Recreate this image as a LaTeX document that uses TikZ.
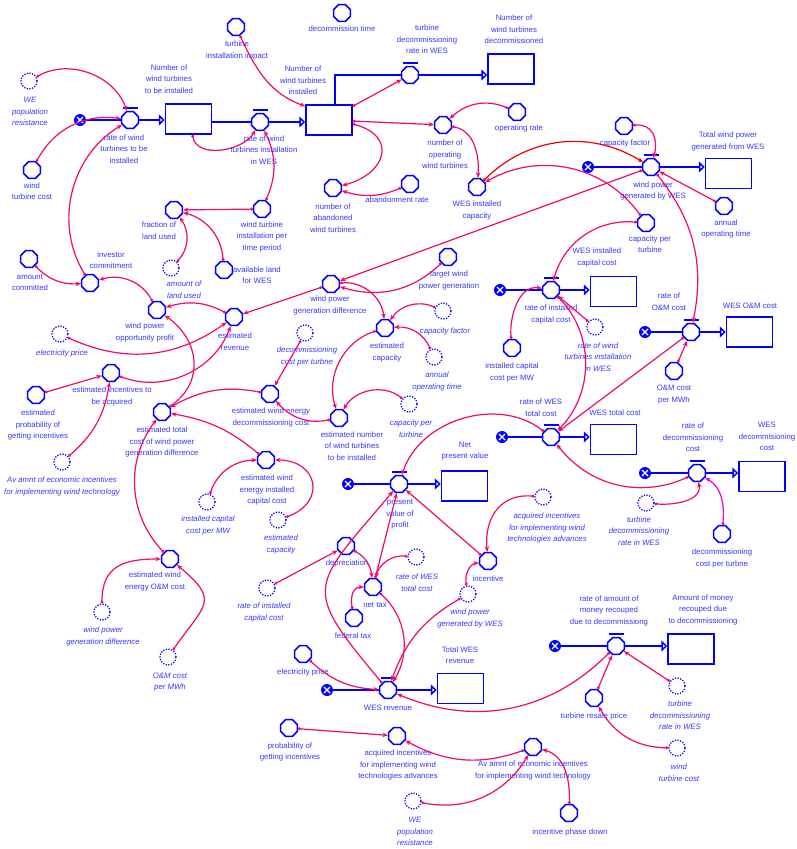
\documentclass[tikz,border=0pt]{standalone}
\usepackage{fontspec}
\setmainfont{Liberation Sans}
\usetikzlibrary{shapes.geometric,arrows.meta}
\definecolor{sdblue}{RGB}{0,0,255}
\definecolor{txtblue}{RGB}{55,55,255}
\definecolor{lnkpink}{RGB}{240,10,110}
\definecolor{lnkred}{RGB}{235,0,0}
\definecolor{lnkmag}{RGB}{230,0,220}
\tikzset{
  aux/.style={regular polygon, regular polygon sides=8, draw=sdblue, line width=1.5pt,
    minimum size=18pt, inner sep=0pt},
  ghost/.style={circle, draw=sdblue, line width=1.3pt, dash pattern=on 1.2pt off 1.5pt,
    minimum size=16pt, inner sep=0pt},
  valve/.style={aux},
  stock/.style={rectangle, draw=sdblue, line width=1.5pt, minimum width=46pt,
    minimum height=30pt, inner sep=0pt},
  srcsink/.style={circle, fill=sdblue, minimum size=12pt, inner sep=0pt,
    path picture={\draw[white, line width=1.1pt] (path picture bounding box.center)
      +(-3pt,-3pt) -- +(3pt,3pt) +(-3pt,3pt) -- +(3pt,-3pt);}},
  lab/.style={align=center, text=txtblue, font=\fontsize{7.8}{11.5}\selectfont, inner sep=0pt},
  glab/.style={lab, font=\fontsize{7.8}{11.5}\selectfont\itshape},
  flowline/.style={draw=sdblue, line width=1.6pt},
  flowarr/.style={flowline, -{Triangle[open, length=6pt, width=11pt, fill=white]}},
  lnk/.style={draw=lnkpink, line width=1.2pt,
    {Circle[length=2.8pt]}-{Stealth[length=5.5pt, width=4.5pt]}},
}
\begin{document}
\begin{tikzpicture}[x=1pt, y=1pt]
\fill[white] (0,0) rectangle (796,-849);
\path[use as bounding box] (0,0) rectangle (796,-849);

% ---------- stocks ----------
\node[stock] (s1) at (188.5,-119) {};
\node[stock] (s2) at (329,-120) {};
\node[stock] (s3) at (511,-69) {};
\node[stock] (s4) at (728.5,-173.5) {};
\node[stock] (s5) at (613.5,-291.5) {};
\node[stock] (s6) at (749.5,-332) {};
\node[stock] (s7) at (613.5,-439.5) {};
\node[stock] (s8) at (762,-476.5) {};
\node[stock] (s9) at (464.5,-486) {};
\node[stock] (s10) at (691,-649) {};
\node[stock] (s11) at (460.5,-688.5) {};
\node[lab] (s1-l) at (169,-79) {Number of\\wind turbines\\to be installed};
\node[lab] (s2-l) at (303,-80.5) {Number of\\wind turbines\\installed};
\node[lab] (s3-l) at (514,-29.5) {Number of\\wind turbines\\decommissioned};
\node[lab] (s4-l) at (728,-141.5) {Total wind power\\generated from WES};
\node[lab] (s5-l) at (597,-257.5) {WES installed\\capital cost};
\node[lab] (s6-l) at (750,-306) {WES O\&M cost};
\node[lab] (s7-l) at (615,-413) {WES total cost};
\node[lab] (s8-l) at (767,-436.5) {WES\\decommisioning\\cost};
\node[lab] (s9-l) at (465,-451) {Net\\present value};
\node[lab] (s10-l) at (703,-609.5) {Amount of money\\recouped due\\to decommissioning};
\node[lab] (s11-l) at (460,-655) {Total WES\\revenue};

% ---------- valves ----------
\node[valve] (v1) at (130,-120) {};
\node[valve] (v2) at (260,-122) {};
\node[valve] (v3) at (410,-75) {};
\node[valve] (v4) at (651,-167) {};
\node[valve] (v5) at (551,-290) {};
\node[valve] (v6) at (691,-332) {};
\node[valve] (v7) at (551,-437) {};
\node[valve] (v8) at (697,-473) {};
\node[valve] (v9) at (399,-484) {};
\node[valve] (v10) at (616,-646) {};
\node[valve] (v11) at (388,-690) {};
\foreach \v in {v1,v2,v3,v4,v5,v6,v7,v8,v9,v10,v11}
  \draw[sdblue, line width=1.8pt] ([xshift=-7.5pt,yshift=3pt]\v.north) -- ([xshift=7.5pt,yshift=3pt]\v.north);
\node[lab] (v1-l) at (124,-149) {rate of wind\\turbines to be\\installed};
\node[lab] (v2-l) at (264,-150) {rate of wind\\turbines installation\\in WES};
\node[lab] (v3-l) at (427,-39.5) {turbine\\decommissioning\\rate in WES};
\node[lab] (v4-l) at (653,-191) {wind power\\generated by WES};
\node[lab] (v5-l) at (551,-314.5) {rate of installed\\capital cost};
\node[lab] (v6-l) at (669,-301.5) {rate of\\O\&M cost};
\node[lab] (v7-l) at (541,-407.5) {rate of WES\\total cost};
\node[lab] (v8-l) at (693,-437.5) {rate of\\decommissioning\\cost};
\node[lab] (v9-l) at (400,-514.5) {present\\value of\\profit};
\node[lab] (v10-l) at (609,-610.5) {rate of amount of\\money recouped\\due to decommissiong};
\node[lab] (v11-l) at (388,-708) {WES revenue};

% ---------- sources and sinks ----------
\node[srcsink] (c1) at (80,-120) {};
\node[srcsink] (c4) at (588,-167) {};
\node[srcsink] (c5) at (500,-290) {};
\node[srcsink] (c6) at (645,-332) {};
\node[srcsink] (c7) at (502,-437) {};
\node[srcsink] (c8) at (645,-473) {};
\node[srcsink] (c9) at (348,-484) {};
\node[srcsink] (c10) at (555,-646) {};
\node[srcsink] (c11) at (327,-690) {};

% ---------- flows ----------
\draw[flowline] (c1) -- (v1);
\draw[flowarr] (v1) -- (v1 -| s1.west);
\draw[flowline] (s1.east |- v2) -- (v2);
\draw[flowarr] (v2) -- (v2 -| s2.west);
\draw[flowline] ([xshift=6pt]s2.north) |- (v3);
\draw[flowarr] (v3) -- (v3 -| s3.west);
\draw[flowline] (c4) -- (v4);
\draw[flowarr] (v4) -- (v4 -| s4.west);
\draw[flowline] (c5) -- (v5);
\draw[flowarr] (v5) -- (v5 -| s5.west);
\draw[flowline] (c6) -- (v6);
\draw[flowarr] (v6) -- (v6 -| s6.west);
\draw[flowline] (c7) -- (v7);
\draw[flowarr] (v7) -- (v7 -| s7.west);
\draw[flowline] (c8) -- (v8);
\draw[flowarr] (v8) -- (v8 -| s8.west);
\draw[flowline] (c9) -- (v9);
\draw[flowarr] (v9) -- (v9 -| s9.west);
\draw[flowline] (c10) -- (v10);
\draw[flowarr] (v10) -- (v10 -| s10.west);
\draw[flowline] (c11) -- (v11);
\draw[flowarr] (v11) -- (v11 -| s11.west);

% ---------- auxiliaries ----------
\node[aux] (tii) at (236,-27) {};
\node[lab] (tii-l) at (237,-50.5) {turbine\\installation impact};
\node[aux] (dct) at (342,-13) {};
\node[lab] (dct-l) at (342,-29) {decommission time};
\node[aux] (wtc) at (32,-170) {};
\node[lab] (wtc-l) at (32,-191) {wind\\turbine cost};
\node[aux] (nop) at (443,-125) {};
\node[lab] (nop-l) at (445,-154.5) {number of\\operating\\wind turbines};
\node[aux] (opr) at (517,-112) {};
\node[lab] (opr-l) at (519,-128) {operating rate};
\node[aux] (nab) at (333,-188) {};
\node[lab] (nab-l) at (333,-218) {number of\\abandoned\\wind turbines};
\node[aux] (abr) at (410,-184) {};
\node[lab] (abr-l) at (397,-200) {abandonment rate};
\node[aux] (wic) at (477,-187) {};
\node[lab] (wic-l) at (477,-210.5) {WES installed\\capacity};
\node[aux] (cf) at (624,-126) {};
\node[lab] (cf-l) at (625,-143) {capacity factor};
\node[aux] (aot) at (724,-206) {};
\node[lab] (aot-l) at (726,-229) {annual\\operating time};
\node[aux] (flu) at (174,-210) {};
\node[lab] (flu-l) at (159,-230.5) {fraction of\\land used};
\node[aux] (wti) at (262,-209) {};
\node[lab] (wti-l) at (262,-236.5) {wind turbine\\installation per\\time period};
\node[aux] (alw) at (224,-270) {};
\node[lab] (alw-l) at (257,-275) {available land\\for WES};
\node[aux] (amc) at (29,-259) {};
\node[lab] (amc-l) at (30,-282.5) {amount\\committed};
\node[aux] (inv) at (90,-283) {};
\node[lab] (inv-l) at (111,-260) {investor\\commitment};
\node[aux] (wpo) at (157,-310) {};
\node[lab] (wpo-l) at (145,-332.5) {wind power\\opportunity profit};
\node[aux] (erv) at (234,-317) {};
\node[lab] (erv-l) at (235,-341.5) {estimated\\revenue};
\node[aux] (eia) at (111,-373) {};
\node[lab] (eia-l) at (112,-396.5) {estimated incentives to\\be acquired};
\node[aux] (epi) at (36,-395) {};
\node[lab] (epi-l) at (38,-425) {estimated\\probability of\\getting incentives};
\node[aux] (etc) at (162,-412) {};
\node[lab] (etc-l) at (162,-442) {estimated total\\cost of wind power\\generation difference};
\node[aux] (wpd) at (331,-284) {};
\node[lab] (wpd-l) at (330,-305.5) {wind power\\generation difference};
\node[aux] (twp) at (448,-257) {};
\node[lab] (twp-l) at (449,-280.5) {target wind\\power generation};
\node[aux] (eca) at (385,-328) {};
\node[lab] (eca-l) at (387,-352.5) {estimated\\capacity};
\node[aux] (ewd) at (270,-394) {};
\node[lab] (ewd-l) at (271,-417.5) {estimated wind energy\\decommissioning cost};
\node[aux] (enw) at (339,-418) {};
\node[lab] (enw-l) at (352,-446) {estimated number\\of wind turbines\\to be installed};
\node[aux] (eic) at (266,-460) {};
\node[lab] (eic-l) at (267,-490) {estimated wind\\energy installed\\capital cost};
\node[aux] (eom) at (170,-559) {};
\node[lab] (eom-l) at (155,-581.5) {estimated wind\\energy O\&M cost};
\node[aux] (cpt) at (646,-223) {};
\node[lab] (cpt-l) at (650,-244) {capacity per\\turbine};
\node[aux] (icm) at (512,-348) {};
\node[lab] (icm-l) at (512,-372.5) {installed capital\\cost per MW};
\node[aux] (omc) at (674,-371) {};
\node[lab] (omc-l) at (674,-394.5) {O\&M cost\\per MWh};
\node[aux] (dcp) at (722,-534) {};
\node[lab] (dcp-l) at (722,-558.5) {decommissioning\\cost per turbne};
\node[aux] (dep) at (346,-546) {};
\node[lab] (dep-l) at (347,-563) {depreciation};
\node[aux] (ntx) at (373,-587) {};
\node[lab] (ntx-l) at (375,-605) {net tax};
\node[aux] (ftx) at (354,-618) {};
\node[lab] (ftx-l) at (353,-636) {federal tax};
\node[aux] (inc) at (488,-561) {};
\node[lab] (inc-l) at (488,-579) {incentive};
\node[aux] (elp) at (303,-654) {};
\node[lab] (elp-l) at (303,-672) {electricity price};
\node[aux] (pgi) at (289,-728) {};
\node[lab] (pgi-l) at (290,-752) {probability of\\getting incentives};
\node[aux] (aqi) at (397,-736) {};
\node[lab] (aqi-l) at (398,-765) {acquired incentives\\for implementing wind\\technologies advances};
\node[aux] (aae) at (533,-747) {};
\node[lab] (aae-l) at (533,-770.5) {Av amnt of economic incentives\\for implementing wind technology};
\node[aux] (ipd) at (569,-813) {};
\node[lab] (ipd-l) at (570,-832) {incentive phase down};
\node[aux] (trp) at (594,-698) {};
\node[lab] (trp-l) at (594,-716) {turbine resale price};

% ---------- shadow variables ----------
\node[ghost] (gpr1) at (29,-81) {};
\node[glab] (gpr1-l) at (30,-111.5) {WE\\population\\resistance};
\node[ghost] (galu) at (171,-268) {};
\node[glab] (galu-l) at (184,-289.5) {amount of\\land used};
\node[ghost] (gep) at (60,-334) {};
\node[glab] (gep-l) at (62,-353) {electricity price};
\node[ghost] (gcd) at (305,-333) {};
\node[glab] (gcd-l) at (307,-356.5) {decommissioning\\cost per turbne};
\node[ghost] (gcf) at (443,-311) {};
\node[glab] (gcf-l) at (445,-331) {capacity factor};
\node[ghost] (gaot) at (434,-357) {};
\node[glab] (gaot-l) at (437,-381.5) {annual\\operating time};
\node[ghost] (gcpt) at (409,-404) {};
\node[glab] (gcpt-l) at (411,-428.5) {capacity per\\turbine};
\node[ghost] (grwt) at (595,-327) {};
\node[glab] (grwt-l) at (598,-357) {rate of wind\\turbines installation\\in WES};
\node[ghost] (gav) at (62,-462) {};
\node[glab] (gav-l) at (62,-486.5) {Av amnt of economic incentives\\for implementing wind technology};
\node[ghost] (gicm) at (207,-502) {};
\node[glab] (gicm-l) at (208,-525.5) {installed capital\\cost per MW};
\node[ghost] (gec) at (278,-520) {};
\node[glab] (gec-l) at (281,-544.5) {estimated\\capacity};
\node[ghost] (gwpd) at (102,-612) {};
\node[glab] (gwpd-l) at (103,-636.5) {wind power\\generation difference};
\node[ghost] (gomc) at (168,-657) {};
\node[glab] (gomc-l) at (170,-682) {O\&M cost\\per MWh};
\node[ghost] (gric) at (267,-588) {};
\node[glab] (gric-l) at (264,-612.5) {rate of installed\\capital cost};
\node[ghost] (grtc) at (416,-557) {};
\node[glab] (grtc-l) at (417,-582.5) {rate of WES\\total cost};
\node[ghost] (gwpg) at (468,-594) {};
\node[glab] (gwpg-l) at (470,-618.5) {wind power\\generated by WES};
\node[ghost] (gaqi) at (543,-497) {};
\node[glab] (gaqi-l) at (547,-528) {acquired incentives\\for implementing wind\\technologies advances};
\node[ghost] (gtdr1) at (646,-503) {};
\node[glab] (gtdr1-l) at (639,-531) {turbine\\decommissioning\\rate in WES};
\node[ghost] (gtdr2) at (677,-686) {};
\node[glab] (gtdr2-l) at (680,-715.5) {turbine\\decommissioning\\rate in WES};
\node[ghost] (gwtc) at (677,-748) {};
\node[glab] (gwtc-l) at (679,-772.5) {wind\\turbine cost};
\node[ghost] (gwpr) at (413,-801) {};
\node[glab] (gwpr-l) at (415,-831.5) {WE\\population\\resistance};

% ---------- information links ----------
\draw[lnk] (gpr1) to[bend left=50] (v1);
\draw[lnk] (wtc) to[bend left=35] (v1);
\draw[lnk] (inv) to[bend left=45] (v1);
\draw[lnk] ([xshift=4pt]s1.south) to[out=-80,in=-120] (v2);
\draw[lnk] (tii) to[out=-65,in=160] ([yshift=-2pt]s2.north west);
\draw[lnk] (wti) to[bend right=25] (v2);
\draw[lnk] (wti) -- (flu);
\draw[lnk] (galu) to[bend right=40] (flu);
\draw[lnk] (alw) to[bend right=35] (flu);
\draw[lnk] (amc) to[bend right=25] (inv);
\draw[lnk] (wpo) to[bend right=40] (inv);
\draw[lnk] (erv) to[bend right=22] (wpo);
\draw[lnk] (gep) to[bend right=30] (erv);
\draw[lnk] (eia) to[bend right=45] (erv);
\draw[lnk] (epi) -- (eia);
\draw[lnk] (gav) to[bend right=20] (eia);
\draw[lnk] (etc) to[out=35,in=-35,looseness=1.2] (wpo);
\draw[lnk] (ewd) to[bend right=20] (etc);
\draw[lnk] (eic) to[bend right=15] (etc);
\draw[lnk] (gec) to[out=20,in=0,looseness=1.9] (eic);
\draw[lnk] (gicm) to[bend left=35] (eic);
\draw[lnk] (gwpd) to[out=90,in=180,looseness=1.3] (eom);
\draw[lnk] (gomc) to[out=55,in=-40,looseness=1.7] (eom);
\draw[lnk] (eom) to[bend left=40] (etc);
\draw[lnk] (gcd) -- (ewd);
\draw[lnk] (enw) to[bend left=30] (ewd);
\draw[lnk] (eca) to[bend right=45] (enw);
\draw[lnk] (gcpt) to[bend right=50] (enw);
\draw[lnk] (wpd) to[bend left=45] (eca);
\draw[lnk] (gcf) to[bend right=40] (eca);
\draw[lnk] (gaot) to[bend right=35] (eca);
\draw[lnk] (twp) to[bend left=30] (wpd);
\draw[lnk] (v4) -- (wpd);
\draw[lnk] (wpd) -- (erv);
\draw[lnk, draw=lnkred] (wic) to[bend left=38] (v4);
\draw[lnk] (cpt) to[bend right=42] (wic);
\draw[lnk] (nop) to[out=-10,in=85] (wic);
\draw[lnk] (opr) to[bend right=33] (nop);
\draw[lnk] (s2) -- (nop);
\draw[lnk] ([yshift=-2pt]s2.north east) -- (v3);
\draw[lnk] ([yshift=-4pt]s2.east) to[out=-15,in=15,looseness=1.9] (nab);
\draw[lnk] (abr) to[bend left=20] (nab);
\draw[lnk] (cf) to[out=5,in=75,looseness=1.3] (v4);
\draw[lnk] (aot) -- (v4);
\draw[lnk] (v4) to[bend left=25] (v6);
\draw[lnk] (cpt) to[bend right=40] (v5);
\draw[lnk] (grwt) -- (v5);
\draw[lnk] (icm) to[out=95,in=170] (v5);
\draw[lnk] (v5) to[bend left=45] (v7);
\draw[lnk] (v6) -- (v7);
\draw[lnk] (omc) -- (v6);
\draw[lnk] (v8) to[bend left=38] (v7);
\draw[lnk] (v7) to[bend right=55] (v9);
\draw[lnk] (gtdr1) to[out=-5,in=-80] (v8);
\draw[lnk, draw=lnkmag] (dcp) to[out=85,in=-30] (v8);
\draw[lnk] (gaqi) to[out=175,in=95,looseness=1.2] (inc);
\draw[lnk] (inc) -- (v9);
\draw[lnk] (gwpg) to[out=100,in=190] (inc);
\draw[lnk] (ntx) -- (v9);
\draw[lnk] (dep) to[bend left=27] (ntx);
\draw[lnk] (grtc) to[bend right=40] (ntx);
\draw[lnk] (ftx) to[out=100,in=180,looseness=1.2] (ntx);
\draw[lnk] (gric) -- (dep);
\draw[lnk] (v11) to[out=130,in=-130,looseness=1.7] (v9);
\draw[lnk] (ntx) to[bend left=40] (v11);
\draw[lnk] (gwpg) to[bend right=20] (v11);
\draw[lnk] (elp) to[bend right=20] (v11);
\draw[lnk] (v10) to[bend left=34] (v11);
\draw[lnk] (pgi) -- (aqi);
\draw[lnk] (aae) to[bend left=24] (aqi);
\draw[lnk] (gwpr) to[bend right=35] (aae);
\draw[lnk] (ipd) to[out=88,in=-15] (aae);
\draw[lnk] (trp) -- (v10);
\draw[lnk] (gtdr2) -- (v10);
\draw[lnk] (gwtc) to[bend left=30] (trp);
\end{tikzpicture}
\end{document}
